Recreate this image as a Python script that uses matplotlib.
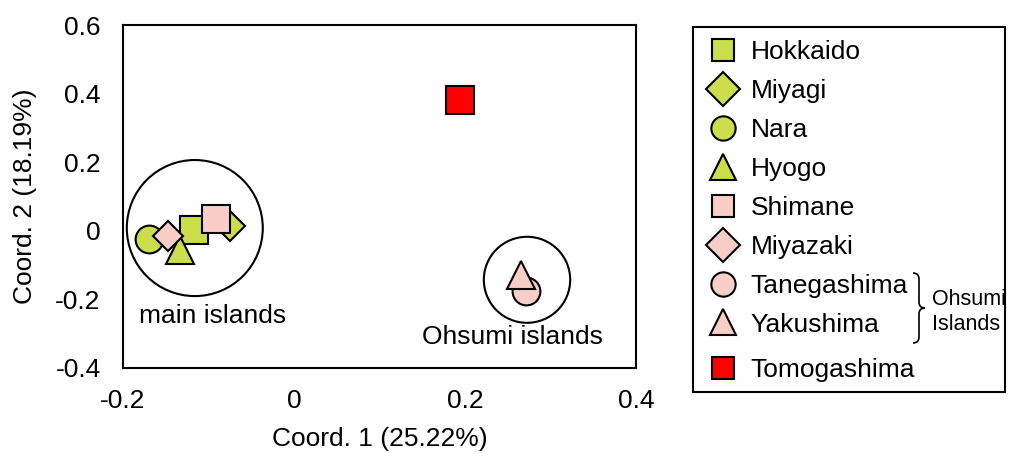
import matplotlib.pyplot as plt
from matplotlib.patches import Ellipse, Rectangle, PathPatch
from matplotlib.path import Path

plt.rcParams['font.family'] = ['Liberation Sans', 'DejaVu Sans']
plt.rcParams['axes.unicode_minus'] = False

# site coordinates (PCoA)
sites = ["Hokkaido", "Miyagi", "Nara", "Hyogo", "Shimane", "Miyazaki",
         "Tanegashima", "Yakushima", "Tomogashima"]
coord1 = [-0.117, -0.075, -0.170, -0.133, -0.091, -0.147, 0.271, 0.265, 0.194]
coord2 = [0.001, 0.014, -0.024, -0.056, 0.033, -0.014, -0.176, -0.129, 0.381]

xticks = [-0.2, 0, 0.2, 0.4]
xtick_labels = ["-0.2", "0", "0.2", "0.4"]
yticks = [-0.4, -0.2, 0, 0.2, 0.4, 0.6]
ytick_labels = ["-0.4", "-0.2", "0", "0.2", "0.4", "0.6"]

verde = "#CCDD4B"
rosa = "#F8CEC7"
rojo = "#FF0000"
# marcador, color, tamaño en grafico, tamaño en leyenda
estilos = [("s", verde, 20, 16.5), ("D", verde, 15, 17.5), ("o", verde, 20, 17.5), ("^", verde, 20, 19),
           ("s", rosa, 20, 16.5), ("D", rosa, 15, 17.5), ("o", rosa, 20, 17.5), ("^", rosa, 20, 19),
           ("s", rojo, 20, 16.5)]
fs = 19

fig = plt.figure(figsize=(10.12, 4.57), dpi=100)
ax = fig.add_axes([0.1215, 0.195, 0.507, 0.75])

lineas = []
for i in range(len(sites)):
    m, c, s, _ = estilos[i]
    l, = ax.plot(coord1[i], coord2[i], linestyle="none", marker=m, markersize=s,
                 markerfacecolor=c, markeredgecolor="black", markeredgewidth=1.5,
                 label=sites[i], zorder=3 + i)
    lineas.append(l)

# circulos de grupos
ax.add_patch(Ellipse((-0.116, 0.008), 0.159, 0.397, fill=False, lw=1.5, ec="black", zorder=2))
ax.add_patch(Ellipse((0.2725, -0.143), 0.101, 0.251, fill=False, lw=1.5, ec="black", zorder=2))
ax.text(-0.095, -0.248, "main islands", ha="center", va="center", fontsize=fs)
ax.text(0.256, -0.31, "Ohsumi islands", ha="center", va="center", fontsize=fs)

ax.set_xlim(-0.2, 0.4)
ax.set_ylim(-0.4, 0.6)
ax.set_xticks(xticks)
ax.set_xticklabels(xtick_labels)
ax.set_yticks(yticks)
ax.set_yticklabels(ytick_labels)
ax.tick_params(axis="both", length=0, labelsize=fs)
ax.tick_params(axis="x", pad=15)
ax.tick_params(axis="y", pad=16)
for sp in ax.spines.values():
    sp.set_linewidth(1.5)
ax.set_xlabel("Coord. 1 (25.22%)", fontsize=fs, labelpad=10)
ax.set_ylabel("Coord. 2 (18.19%)", fontsize=fs, labelpad=13)

# leyenda
W, H = 1012.0, 457.0
fig.patches.append(Rectangle((693 / W, 1 - 392 / H), 312 / W, 365 / H, transform=fig.transFigure,
                             fill=False, lw=1.5, ec="black"))
opts = dict(loc="upper left", bbox_transform=fig.transFigure, frameon=False, fontsize=fs,
            labelspacing=0.565, handletextpad=0.3, handlelength=1.5, borderpad=0.2, borderaxespad=0)
leg1 = ax.legend(handles=lineas[:8], bbox_to_anchor=(698 / W, 1 - 35 / H), **opts)
for h, e in zip(leg1.legend_handles, estilos[:8]):
    h.set_markersize(e[3])
ax.add_artist(leg1)
leg2 = ax.legend(handles=lineas[8:], bbox_to_anchor=(698 / W, 1 - 353 / H), **opts)
leg2.legend_handles[0].set_markersize(estilos[8][3])

# llave Ohsumi
x0, yt, yb, w = 913.0, 273.0, 343.0, 6.0
ym = (yt + yb) / 2
pts = [(x0, yt), (x0 + w, yt), (x0 + w, yt + w), (x0 + w, ym - w), (x0 + w, ym), (x0 + 2 * w, ym),
       (x0 + w, ym), (x0 + w, ym + w), (x0 + w, yb - w), (x0 + w, yb), (x0, yb)]
codes = [Path.MOVETO, Path.CURVE3, Path.CURVE3, Path.LINETO, Path.CURVE3, Path.CURVE3,
         Path.CURVE3, Path.CURVE3, Path.LINETO, Path.CURVE3, Path.CURVE3]
pts = [(px / W, 1 - py / H) for px, py in pts]
fig.patches.append(PathPatch(Path(pts, codes), transform=fig.transFigure, fill=False, lw=1.2, ec="black"))
fig.text(932 / W, 1 - 312 / H, "Ohsumi\nIslands", fontsize=15.5, ha="left", va="center", linespacing=1.25)

fig.savefig("out.png", dpi=100)
